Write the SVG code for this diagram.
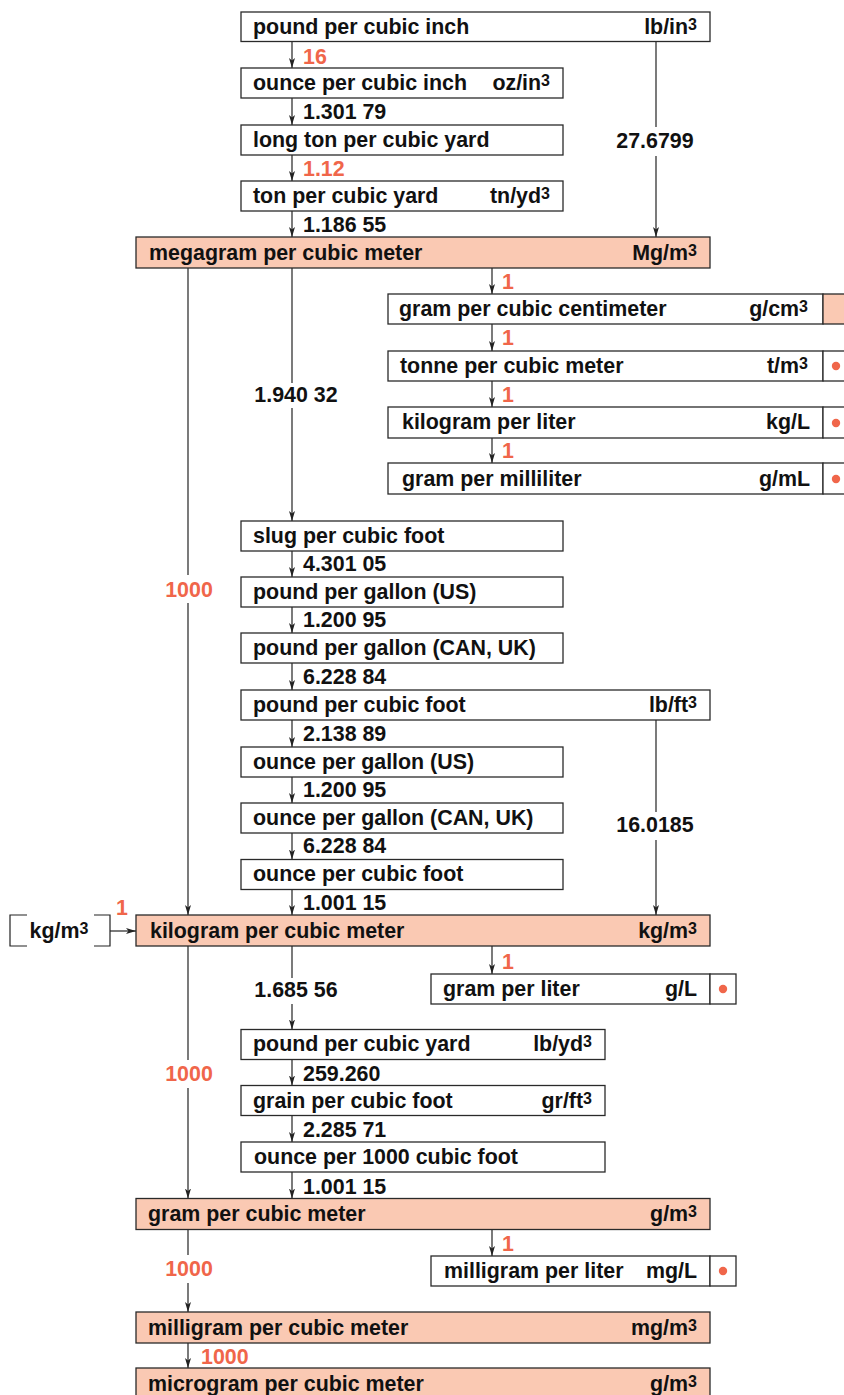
<svg xmlns="http://www.w3.org/2000/svg" width="844" height="1395" viewBox="0 0 844 1395">
<style>
.box{fill:#ffffff;stroke:#2a2a2a;stroke-width:1.3}
.hl{fill:#fac9b3;stroke:#2a2a2a;stroke-width:1.3}
text{font-family:"Liberation Sans",Arial,Helvetica,sans-serif;font-weight:bold;font-size:21.4px;fill:#111111}
.o{fill:#f0664a}
.e{text-anchor:end}
.c{text-anchor:middle}
.s{font-size:16px}
.ln{stroke:#222222;stroke-width:1.2;fill:none}
.ar{stroke:#222222;stroke-width:1.2;fill:none;marker-end:url(#ah)}
.dot{fill:#f0664a}
</style>
<defs>
<marker id="ah" markerUnits="userSpaceOnUse" markerWidth="10" markerHeight="7" viewBox="0 0 10 7" refX="10" refY="3.5" orient="auto">
<path d="M0,0.5 L10,3.5 L0,6.5 L2.5,3.5 z" fill="#222222"/>
</marker>
</defs>

<g id="connectors">
<line class="ar" x1="292" y1="41.5" x2="292" y2="68"/>
<line class="ar" x1="292" y1="98" x2="292" y2="125"/>
<line class="ar" x1="292" y1="155" x2="292" y2="181"/>
<line class="ar" x1="292" y1="211" x2="292" y2="237"/>
<line class="ar" x1="292" y1="551" x2="292" y2="577"/>
<line class="ar" x1="292" y1="607" x2="292" y2="633"/>
<line class="ar" x1="292" y1="663" x2="292" y2="690"/>
<line class="ar" x1="292" y1="720" x2="292" y2="747"/>
<line class="ar" x1="292" y1="777" x2="292" y2="803"/>
<line class="ar" x1="292" y1="833" x2="292" y2="859.5"/>
<line class="ar" x1="292" y1="889.5" x2="292" y2="915"/>
<line class="ar" x1="292" y1="1059.5" x2="292" y2="1085.5"/>
<line class="ar" x1="292" y1="1115.5" x2="292" y2="1142"/>
<line class="ar" x1="292" y1="1172" x2="292" y2="1198.5"/>
<line class="ar" x1="492" y1="268" x2="492" y2="294"/>
<line class="ar" x1="492" y1="324" x2="492" y2="351"/>
<line class="ar" x1="492" y1="381" x2="492" y2="407"/>
<line class="ar" x1="492" y1="438" x2="492" y2="463"/>
<line class="ar" x1="492" y1="946" x2="492" y2="974"/>
<line class="ar" x1="492" y1="1229.5" x2="492" y2="1256"/>
<line class="ln" x1="656" y1="41.5" x2="656" y2="127"/>
<line class="ar" x1="656" y1="156" x2="656" y2="237"/>
<line class="ln" x1="188" y1="268" x2="188" y2="575"/>
<line class="ar" x1="188" y1="603" x2="188" y2="915"/>
<line class="ln" x1="292" y1="268" x2="292" y2="383"/>
<line class="ar" x1="292" y1="408" x2="292" y2="521"/>
<line class="ln" x1="656" y1="720" x2="656" y2="812"/>
<line class="ar" x1="656" y1="840" x2="656" y2="915"/>
<line class="ln" x1="292" y1="946" x2="292" y2="978"/>
<line class="ar" x1="292" y1="1004" x2="292" y2="1029.5"/>
<line class="ln" x1="188" y1="946" x2="188" y2="1060"/>
<line class="ar" x1="188" y1="1088" x2="188" y2="1198.5"/>
<line class="ln" x1="188" y1="1229.5" x2="188" y2="1255"/>
<line class="ar" x1="188" y1="1283" x2="188" y2="1312"/>
<line class="ar" x1="188" y1="1343" x2="188" y2="1368"/>
<line class="ar" x1="110" y1="931" x2="136" y2="931"/>
<text class="o" x="303" y="64">16</text>
<text x="303" y="119">1.301 79</text>
<text class="o" x="303" y="176">1.12</text>
<text x="303" y="232">1.186 55</text>
<text class="c" x="655" y="148">27.6799</text>
<text class="o" x="502" y="289">1</text>
<text class="o" x="502" y="345">1</text>
<text class="o" x="502" y="402">1</text>
<text class="o" x="502" y="458">1</text>
<text class="c" x="296" y="402">1.940 32</text>
<text class="o c" x="189" y="597">1000</text>
<text x="303" y="571">4.301 05</text>
<text x="303" y="627">1.200 95</text>
<text x="303" y="684">6.228 84</text>
<text x="303" y="741">2.138 89</text>
<text x="303" y="797">1.200 95</text>
<text x="303" y="853">6.228 84</text>
<text x="303" y="910">1.001 15</text>
<text class="c" x="655" y="832">16.0185</text>
<text class="o" x="116" y="915">1</text>
<text class="o" x="502" y="969">1</text>
<text class="c" x="296" y="997">1.685 56</text>
<text class="o c" x="189" y="1081">1000</text>
<text x="303" y="1081">259.260</text>
<text x="303" y="1137">2.285 71</text>
<text x="303" y="1194">1.001 15</text>
<text class="o" x="502" y="1251">1</text>
<text class="o c" x="189" y="1276">1000</text>
<text class="o" x="201" y="1364">1000</text>
</g>

<g id="n1"><rect class="box" x="241" y="12" width="469" height="29.5"/><text x="253" y="34">pound per cubic inch</text><text class="e" x="697" y="34">lb/in<tspan class="s" dy="-4">3</tspan></text></g>
<g id="n2"><rect class="box" x="241" y="68" width="322" height="30"/><text x="253" y="90">ounce per cubic inch</text><text class="e" x="550" y="90">oz/in<tspan class="s" dy="-4">3</tspan></text></g>
<g id="n3"><rect class="box" x="241" y="125" width="322" height="30"/><text x="253" y="147">long ton per cubic yard</text></g>
<g id="n4"><rect class="box" x="241" y="181" width="322" height="30"/><text x="253" y="203">ton per cubic yard</text><text class="e" x="550" y="203">tn/yd<tspan class="s" dy="-4">3</tspan></text></g>
<g id="n5"><rect class="hl" x="136" y="237" width="574" height="31"/><text x="149" y="260">megagram per cubic meter</text><text class="e" x="697" y="260">Mg/m<tspan class="s" dy="-4">3</tspan></text></g>
<g id="n6"><rect class="box" x="388" y="294" width="435" height="30"/><rect class="hl" x="823" y="294" width="26" height="30"/><text x="399" y="316">gram per cubic centimeter</text><text class="e" x="808" y="316">g/cm<tspan class="s" dy="-4">3</tspan></text></g>
<g id="n7"><rect class="box" x="388" y="351" width="435" height="30"/><rect class="box" x="823" y="351" width="26" height="30"/><circle class="dot" cx="836" cy="366" r="4.2"/><text x="400" y="373">tonne per cubic meter</text><text class="e" x="808" y="373">t/m<tspan class="s" dy="-4">3</tspan></text></g>
<g id="n8"><rect class="box" x="388" y="407" width="435" height="31"/><rect class="box" x="823" y="407" width="26" height="31"/><circle class="dot" cx="836" cy="423" r="4.2"/><text x="402" y="429">kilogram per liter</text><text class="e" x="810" y="429">kg/L</text></g>
<g id="n9"><rect class="box" x="388" y="463" width="435" height="31"/><rect class="box" x="823" y="463" width="26" height="31"/><circle class="dot" cx="836" cy="479" r="4.2"/><text x="402" y="486">gram per milliliter</text><text class="e" x="810" y="486">g/mL</text></g>
<g id="n10"><rect class="box" x="241" y="521" width="322" height="30"/><text x="253" y="543">slug per cubic foot</text></g>
<g id="n11"><rect class="box" x="241" y="577" width="322" height="30"/><text x="253" y="599">pound per gallon (US)</text></g>
<g id="n12"><rect class="box" x="241" y="633" width="322" height="30"/><text x="253" y="655">pound per gallon (CAN, UK)</text></g>
<g id="n13"><rect class="box" x="241" y="690" width="469" height="30"/><text x="253" y="712">pound per cubic foot</text><text class="e" x="697" y="712">lb/ft<tspan class="s" dy="-4">3</tspan></text></g>
<g id="n14"><rect class="box" x="241" y="747" width="322" height="30"/><text x="253" y="769">ounce per gallon (US)</text></g>
<g id="n15"><rect class="box" x="241" y="803" width="322" height="30"/><text x="253" y="825">ounce per gallon (CAN, UK)</text></g>
<g id="n16"><rect class="box" x="241" y="859.5" width="322" height="30"/><text x="253" y="881">ounce per cubic foot</text></g>
<g id="n17"><rect class="hl" x="136" y="915" width="574" height="31"/><text x="150" y="938">kilogram per cubic meter</text><text class="e" x="697" y="938">kg/m<tspan class="s" dy="-4">3</tspan></text></g>
<g id="n0"><path class="ln" d="M27,915 H10 V946 H27 M94,915 H110 V946 H94"/><text class="c" x="59" y="938">kg/m<tspan class="s" dy="-4">3</tspan></text></g>
<g id="n18"><rect class="box" x="431" y="974" width="279" height="30"/><rect class="box" x="710" y="974" width="26" height="30"/><circle class="dot" cx="723" cy="989" r="4.2"/><text x="443" y="996">gram per liter</text><text class="e" x="697" y="996">g/L</text></g>
<g id="n19"><rect class="box" x="241" y="1029.5" width="364" height="30"/><text x="253" y="1051">pound per cubic yard</text><text class="e" x="592" y="1051">lb/yd<tspan class="s" dy="-4">3</tspan></text></g>
<g id="n20"><rect class="box" x="241" y="1085.5" width="364" height="30"/><text x="253" y="1108">grain per cubic foot</text><text class="e" x="592" y="1108">gr/ft<tspan class="s" dy="-4">3</tspan></text></g>
<g id="n21"><rect class="box" x="241" y="1142" width="364" height="30"/><text x="254" y="1164">ounce per 1000 cubic foot</text></g>
<g id="n22"><rect class="hl" x="136" y="1198.5" width="574" height="31"/><text x="148" y="1221">gram per cubic meter</text><text class="e" x="697" y="1221">g/m<tspan class="s" dy="-4">3</tspan></text></g>
<g id="n23"><rect class="box" x="431" y="1256" width="279" height="30"/><rect class="box" x="710" y="1256" width="26" height="30"/><circle class="dot" cx="723" cy="1271" r="4.2"/><text x="444" y="1278">milligram per liter</text><text class="e" x="697" y="1278">mg/L</text></g>
<g id="n24"><rect class="hl" x="136" y="1312" width="574" height="31"/><text x="148" y="1335">milligram per cubic meter</text><text class="e" x="697" y="1335">mg/m<tspan class="s" dy="-4">3</tspan></text></g>
<g id="n25"><rect class="hl" x="136" y="1368" width="574" height="31"/><text x="148" y="1391">microgram per cubic meter</text><text class="e" x="697" y="1391">g/m<tspan class="s" dy="-4">3</tspan></text></g>
</svg>
